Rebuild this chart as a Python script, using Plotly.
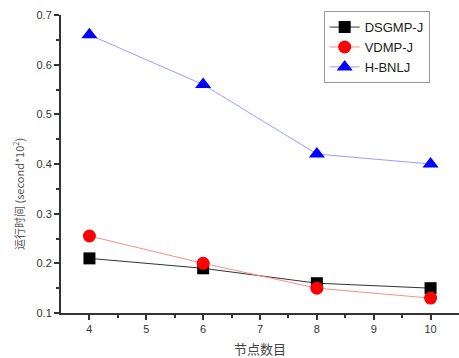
import plotly.graph_objects as go

nodes = [4, 6, 8, 10]
dsgmp_j = [0.21, 0.19, 0.16, 0.15]
vdmp_j = [0.255, 0.20, 0.15, 0.13]
h_bnlj = [0.66, 0.56, 0.42, 0.40]

series = [
    ("DSGMP-J", dsgmp_j, "#000000", "#333333", "square", 12),
    ("VDMP-J", vdmp_j, "#ff0000", "#ff8c8c", "circle", 13),
    ("H-BNLJ", h_bnlj, "#0000ff", "#9c9cff", "triangle-up", 14),
]

fig = go.Figure()
for name, vals, mcol, lcol, sym, size in series:
    fig.add_trace(go.Scatter(
        x=nodes, y=vals, name=name, mode="lines+markers",
        line=dict(color=lcol, width=1),
        marker=dict(symbol=sym, size=size, color=mcol, line=dict(width=0)),
    ))

tick_font = dict(family="Liberation Sans, Arial", size=11, color="#333333")

fig.update_layout(
    width=459, height=358,
    margin=dict(l=61, r=0, t=15, b=45),
    plot_bgcolor="white", paper_bgcolor="white",
    showlegend=True,
    legend=dict(
        x=0.66, y=1.013, xanchor="left", yanchor="top",
        bordercolor="#999999", borderwidth=1, bgcolor="white",
        font=dict(family="Liberation Sans, Arial", size=13, color="#222222"),
        itemwidth=30, tracegroupgap=0,
    ),
    xaxis=dict(
        range=[3.5, 10.5], tickvals=[4, 5, 6, 7, 8, 9, 10],
        showgrid=False, zeroline=False,
        showline=True, linecolor="#333333", linewidth=2,
        ticks="outside", ticklen=5, tickwidth=1.5, tickcolor="#333333",
        minor=dict(tickvals=[4.5, 5.5, 6.5, 7.5, 8.5, 9.5], ticks="outside",
                   ticklen=3, tickwidth=1.5, tickcolor="#333333"),
        tickfont=tick_font,
        title=dict(text="节点数目", standoff=12,
                   font=dict(family="Noto Sans CJK SC", size=13, color="#444444")),
    ),
    yaxis=dict(
        range=[0.1, 0.7], tickvals=[0.1, 0.2, 0.3, 0.4, 0.5, 0.6, 0.7],
        ticktext=["0.1", "0.2", "0.3", "0.4", "0.5", "0.6", "0.7"],
        showgrid=False, zeroline=False,
        showline=True, linecolor="#333333", linewidth=2,
        ticks="outside", ticklen=5, tickwidth=1.5, tickcolor="#333333",
        minor=dict(tickvals=[0.15, 0.25, 0.35, 0.45, 0.55, 0.65], ticks="outside",
                   ticklen=3, tickwidth=1.5, tickcolor="#333333"),
        tickfont=tick_font,
    ),
)

fig.add_annotation(
    text="运行时间 (second*10<sup>2</sup>)",
    xref="paper", yref="paper", x=-0.105, y=0.40,
    xanchor="center", yanchor="middle", textangle=-90, showarrow=False,
    font=dict(family="Noto Sans CJK SC, Liberation Sans", size=11, color="#555555"),
)

fig.write_html("out.html")
